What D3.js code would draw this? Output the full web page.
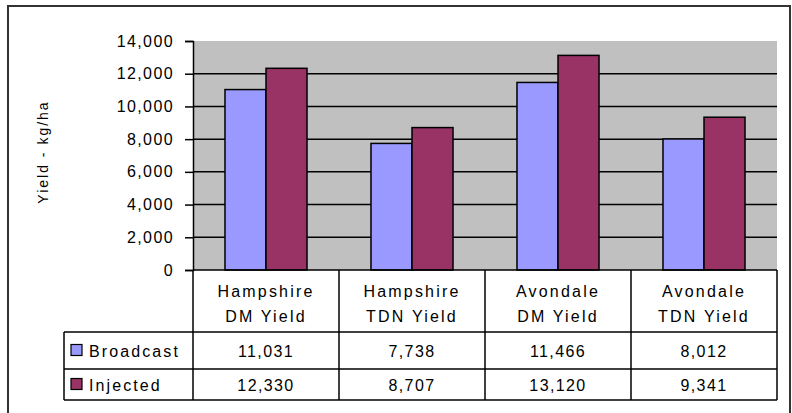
<!DOCTYPE html>
<html>
<head>
<meta charset="utf-8">
<script src="https://cdn.jsdelivr.net/npm/d3@7"></script>
<style>
  html, body { margin: 0; padding: 0; background: #fff; }
  svg { display: block; font-family: "Liberation Sans", Arial, sans-serif; }
</style>
</head>
<body>
<svg id="chart" width="792" height="413"></svg>
<script>
const categories = [["Hampshire", "DM Yield"], ["Hampshire", "TDN Yield"], ["Avondale", "DM Yield"], ["Avondale", "TDN Yield"]];
const seriesNames = ["Broadcast", "Injected"];
const broadcast = [11031, 7738, 11466, 8012];
const injected = [12330, 8707, 13120, 9341];
const seriesColors = ["#9999FF", "#993366"];
const yTicks = [0, 2000, 4000, 6000, 8000, 10000, 12000, 14000];
const yTitle = "Yield - kg/ha";

const seriesValues = [broadcast, injected];
const svg = d3.select("#chart");
const fmt = d3.format(",");

const plot = { left: 193, right: 777, top: 41, bottom: 270 };
const tableRows = [270, 332, 369, 400];
const tableLeft = 64;

// outer border
svg.append("rect").attr("x", 8).attr("y", 6).attr("width", 782).attr("height", 420)
  .attr("fill", "none").attr("stroke", "#333").attr("stroke-width", 2);

const x = d3.scaleBand().domain(d3.range(categories.length)).range([plot.left, plot.right]).padding(0);
const xs = d3.scaleBand().domain(seriesNames).range([0, x.bandwidth()]).paddingInner(0).paddingOuter(0.78);
const y = d3.scaleLinear().domain([0, 14000]).range([plot.bottom, plot.top]);

// plot background
svg.append("rect").attr("x", plot.left).attr("y", plot.top)
  .attr("width", plot.right - plot.left).attr("height", plot.bottom - plot.top).attr("fill", "#C0C0C0");

// gridlines
svg.append("g").selectAll("line").data(yTicks.filter(t => t > 0 && t < 14000)).join("line")
  .attr("x1", plot.left).attr("x2", plot.right).attr("y1", d => y(d)).attr("y2", d => y(d))
  .attr("stroke", "#000").attr("stroke-width", 1.5);

// bars
const groups = svg.append("g").selectAll("g").data(categories.map((c, i) => i)).join("g")
  .attr("transform", i => `translate(${x(i)},0)`);
groups.selectAll("rect").data(i => seriesNames.map((s, k) => ({ s, k, v: seriesValues[k][i] }))).join("rect")
  .attr("x", d => xs(d.s)).attr("width", xs.bandwidth())
  .attr("y", d => y(d.v)).attr("height", d => y(0) - y(d.v))
  .attr("fill", d => seriesColors[d.k]).attr("stroke", "#000").attr("stroke-width", 1.5);

// y axis
const yAxis = d3.axisLeft(y).tickValues(yTicks).tickFormat(fmt).tickSize(8).tickPadding(11);
const ya = svg.append("g").attr("transform", `translate(${plot.left},0)`).call(yAxis);
ya.select(".domain").attr("stroke", "#000").attr("stroke-width", 1.5);
ya.selectAll(".tick line").attr("stroke", "#000").attr("stroke-width", 1.5);
ya.selectAll(".tick text").attr("font-size", 16).attr("fill", "#000")
  .attr("font-family", "'Liberation Sans', Arial, sans-serif").style("letter-spacing", "1.4px");

// y title
svg.append("text").attr("transform", "translate(48,152) rotate(-90)")
  .attr("text-anchor", "middle").attr("font-size", 14).style("letter-spacing", "2px")
  .attr("fill", "#000").text(yTitle);

// data table
const tg = svg.append("g");
const lineStyle = sel => sel.attr("stroke", "#000").attr("stroke-width", 1.5);
// x-axis / top line
tg.append("line").attr("x1", plot.left).attr("x2", plot.right).attr("y1", tableRows[0]).attr("y2", tableRows[0]).call(lineStyle);
// horizontal row lines
tg.selectAll("line.h").data(tableRows.slice(1)).join("line").attr("class", "h")
  .attr("x1", tableLeft).attr("x2", plot.right).attr("y1", d => d).attr("y2", d => d).call(lineStyle);
// vertical category separators
const vx = d3.range(categories.length).map(i => x(i)).concat([plot.right]);
tg.selectAll("line.v").data(vx).join("line").attr("class", "v")
  .attr("x1", d => d).attr("x2", d => d).attr("y1", tableRows[0]).attr("y2", tableRows[3]).call(lineStyle);
tg.append("line").attr("x1", tableLeft).attr("x2", tableLeft).attr("y1", tableRows[1]).attr("y2", tableRows[3]).call(lineStyle);

// header text
categories.forEach((c, i) => {
  const cx = x(i) + x.bandwidth() / 2;
  c.forEach((line, j) => {
    tg.append("text").attr("x", cx).attr("y", 297 + j * 25).attr("text-anchor", "middle")
      .attr("font-size", 16).style("letter-spacing", "2.2px").attr("fill", "#000").text(line);
  });
});

// rows
seriesNames.forEach((s, k) => {
  const cy = (tableRows[k + 1] + tableRows[k + 2]) / 2;
  tg.append("rect").attr("x", 71).attr("y", cy - 6).attr("width", 11).attr("height", 11)
    .attr("fill", seriesColors[k]).attr("stroke", "#000").attr("stroke-width", 1.2);
  tg.append("text").attr("x", 89).attr("y", cy + 6).attr("font-size", 16)
    .style("letter-spacing", "2.1px").attr("fill", "#000").text(s);
  seriesValues[k].forEach((v, i) => {
    tg.append("text").attr("x", x(i) + x.bandwidth() / 2).attr("y", cy + 6).attr("text-anchor", "middle")
      .attr("font-size", 16).style("letter-spacing", "1.4px").attr("fill", "#000").text(fmt(v));
  });
});
</script>
</body>
</html>
